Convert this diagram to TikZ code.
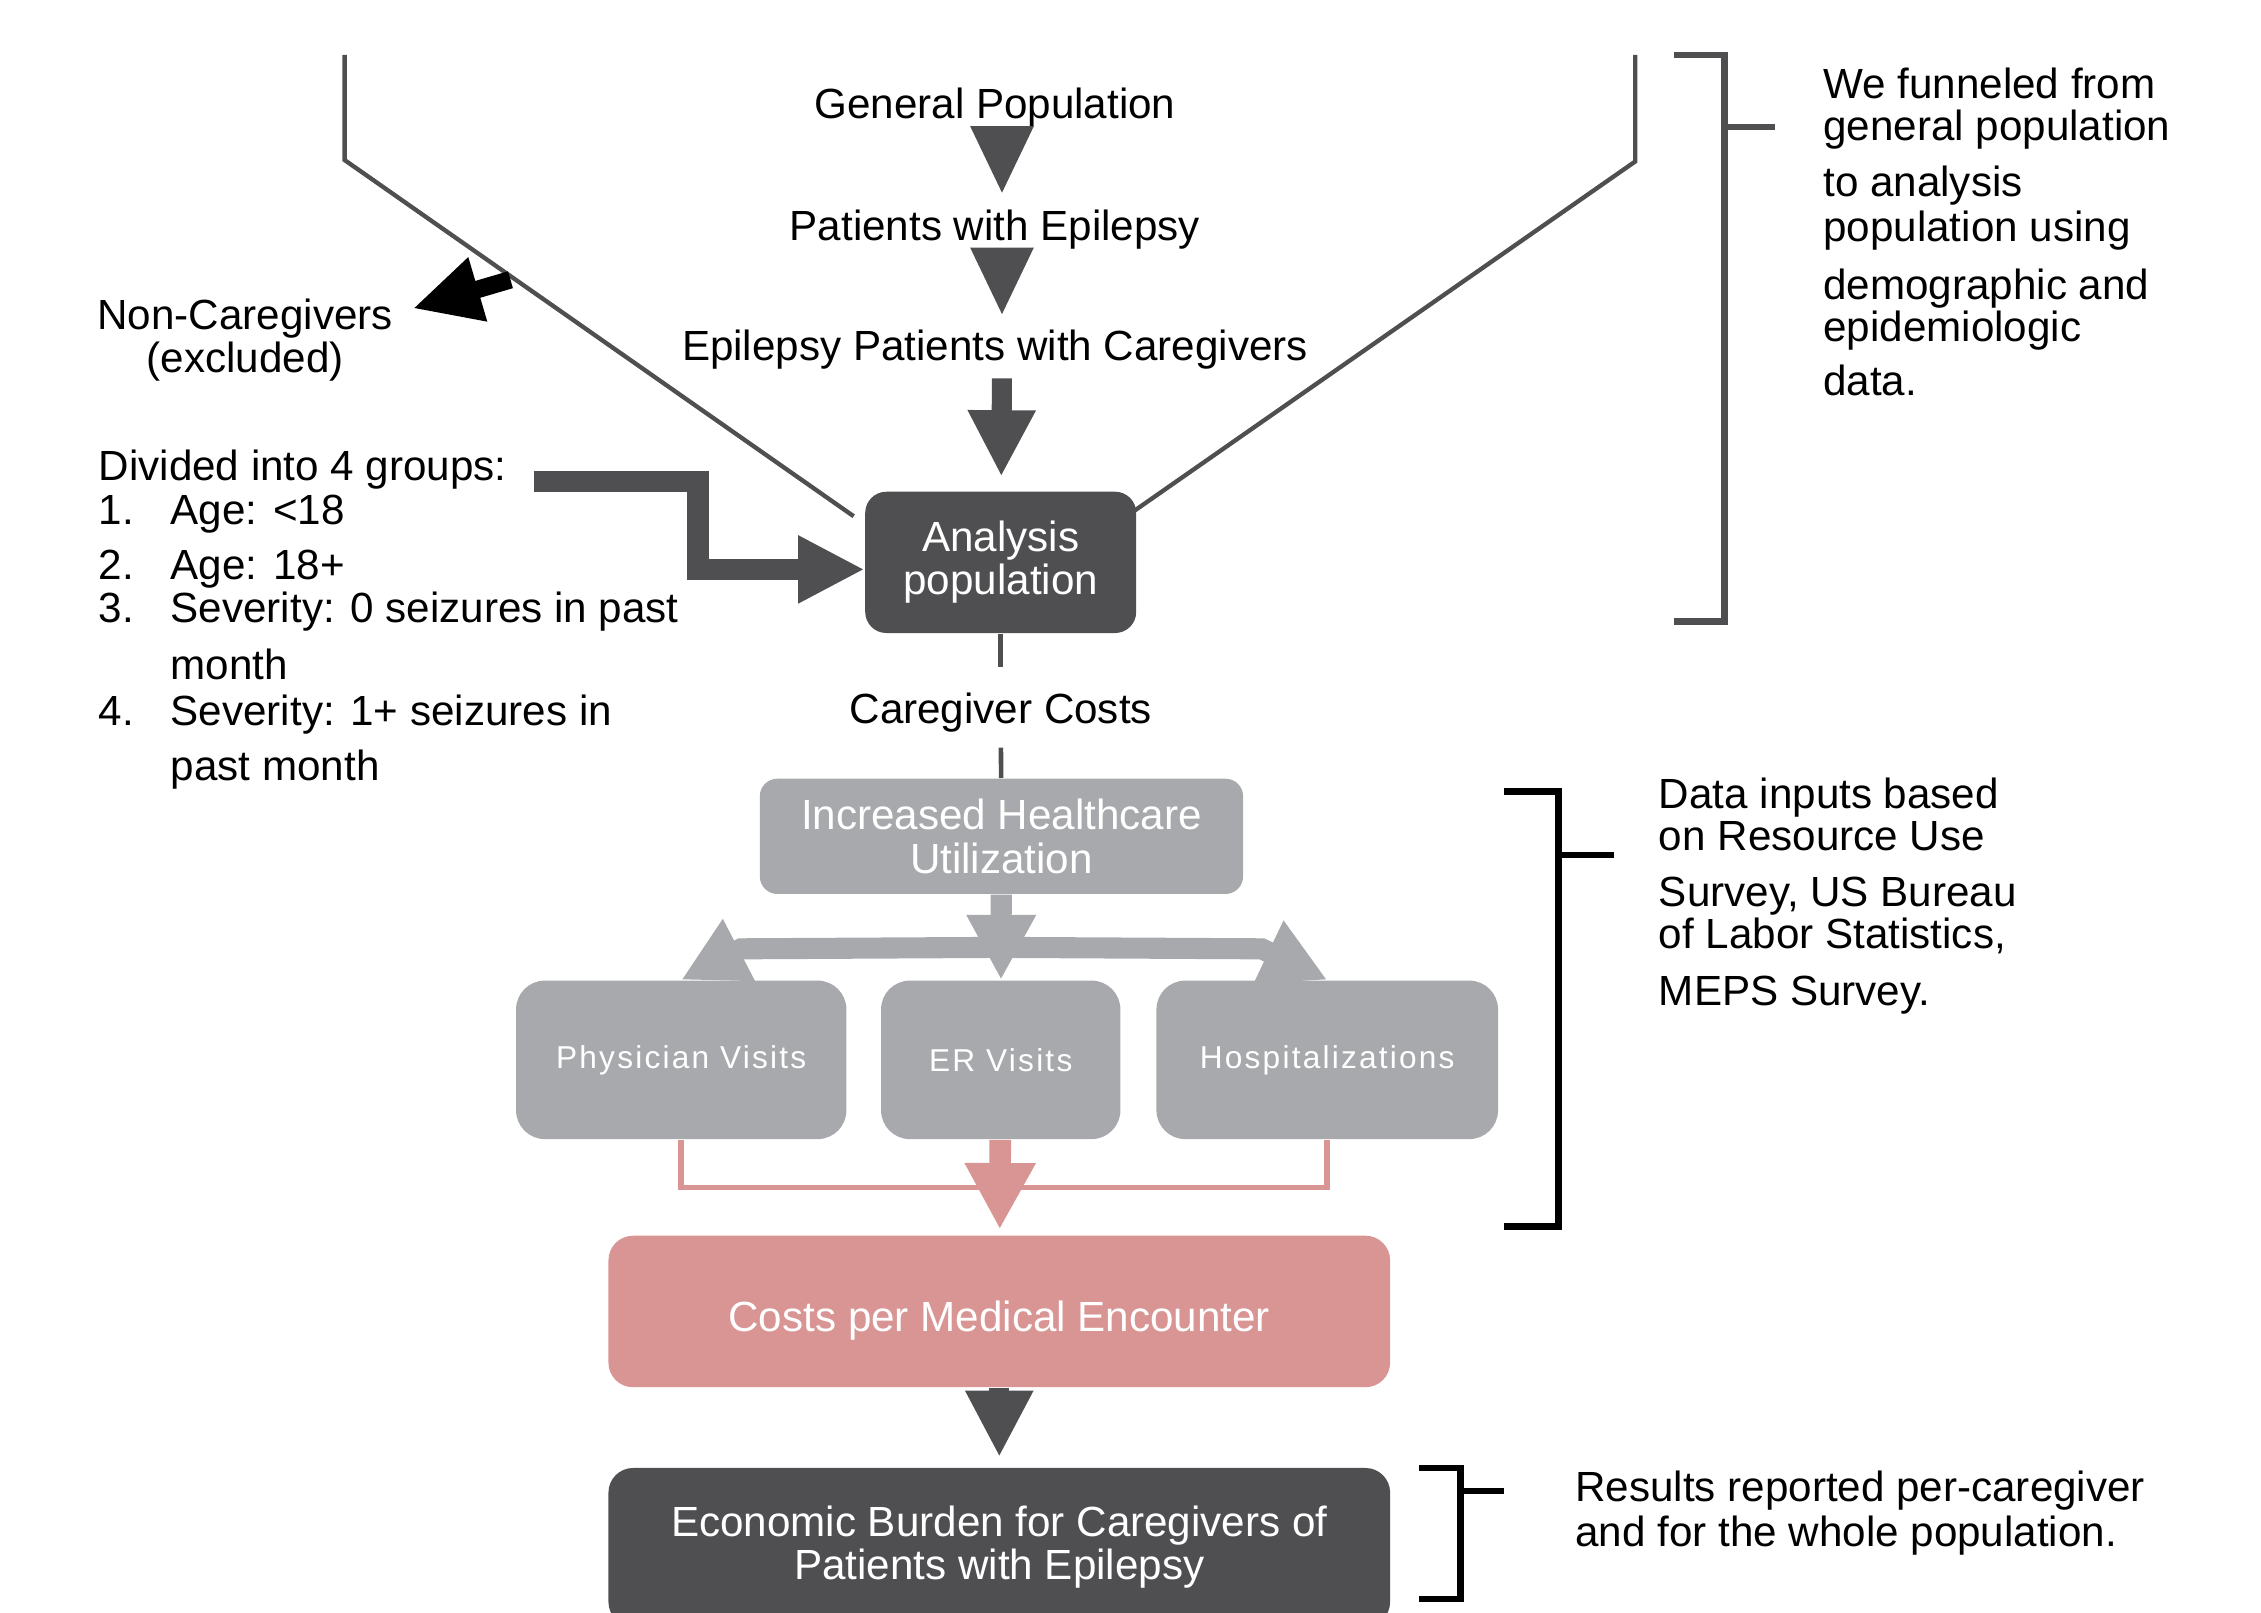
\documentclass[tikz,border=0pt]{standalone}
\usepackage{fontspec}
\setmainfont{Liberation Sans}
\usetikzlibrary{arrows.meta,positioning}
\definecolor{slate}{HTML}{4F4F51}
\definecolor{ash}{HTML}{A8A9AC}
\definecolor{rose}{HTML}{D99594}
\newcommand{\nr}[1]{\makebox[20.5pt][l]{#1}}

\begin{document}
\begin{tikzpicture}[x=0.01442cm,y=-0.01442cm,
    every node/.style={font=\fontsize{12}{12.3}\selectfont},
    txt/.style={inner sep=0pt},
    panel/.style={rectangle,inner sep=0pt,text=white,align=center},
    dark box/.style={panel,fill=slate,rounded corners=6pt},
    grey box/.style={panel,fill=ash,rounded corners=5pt},
    rose box/.style={panel,fill=rose,rounded corners=7pt},
    visit/.style={panel,fill=ash,rounded corners=8.2pt,minimum height=45.1pt,font=\fontsize{9}{11}\selectfont\addfontfeatures{LetterSpace=7}},
    funnel/.style={draw=slate,line width=1.23pt},
    stem/.style={draw=slate,line width=1.3pt},
    tip only/.style={draw=slate,line width=0.4pt,-{Triangle[length=18.9pt,width=18pt]}},
    fat/.style={draw=slate,line width=5.7pt,-{Triangle[length=18.9pt,width=18pt]}},
    split arrow/.style={draw=ash,line width=6pt,-{Triangle[length=18.5pt,width=18.5pt]}},
    rose arrow/.style={draw=rose,line width=6.15pt,-{Triangle[length=18.9pt,width=18.9pt]}},
    rose line/.style={draw=rose,line width=1.6pt},
    excl arrow/.style={draw=black,line width=5pt,-{Triangle[length=19.3pt,width=17.6pt]}},
    bracket/.style={draw=black,line width=1.9pt}]

    \useasboundingbox (0,0) rectangle (1568,1118);
    \clip (0,0) rectangle (1568,1118);

    % funnel
    \draw[funnel] (239,38) -- (239,111) -- (592,358);
    \draw[funnel] (1134,38) -- (1134,112) -- (787,354);

    \node[txt, anchor=base] (gen) at (690,82) {General Population};
    \node[txt, anchor=base] (pat) at (690,167) {Patients with Epilepsy};
    \node[txt, anchor=base] (epc) at (690,250) {Epilepsy Patients with Caregivers};
    \node[dark box, minimum width=77.1pt, minimum height=40.2pt] (ana) at (694,390) {Analysis\\population};

    \draw[tip only, shorten >=4.8pt] ([xshift=2pt]gen.south) -- ([xshift=2pt]pat.north);
    \draw[tip only, shorten >=4.3pt] ([xshift=2pt]pat.south) -- ([xshift=2pt]epc.north);
    \draw[fat, shorten <=2.4pt, shorten >=4.1pt] ([xshift=2pt]epc.south) -- (ana);

    % excluded
    \node[txt, align=center] (nonc) at (170,236) {Non-Caregivers\\(excluded)};
    \coordinate (cut) at (354,194);
    \draw[excl arrow, shorten >=5.7pt] (cut) -- (nonc.10);

    % groups
    \node[txt, anchor=base west] (grp) at (68,333) {Divided into 4 groups:};
    \node[txt, anchor=base west] (grp1) at (68,364) {\nr{1.}Age: <18};
    \node[txt, anchor=base west] (grp2) at (68,402) {\nr{2.}Age: 18+};
    \node[txt, anchor=base west] (grp3) at (68,432) {\nr{3.}Severity: 0 seizures in past};
    \node[txt, anchor=base west] (grp3b) at (118,471) {month};
    \node[txt, anchor=base west] (grp4) at (68,503) {\nr{4.}Severity: 1+ seizures in};
    \node[txt, anchor=base west] (grp4b) at (118,541) {past month};

    \coordinate (grpout) at (370,334);
    \coordinate (grpbend) at (484,334);
    \draw[fat, line width=6.15pt] (grpout) -- (grpbend) |- ([yshift=-2pt]ana.west);

    % costs
    \node[txt, anchor=base] (cgc) at (694,502) {Caregiver Costs};
    \node[grey box, minimum width=137.5pt, minimum height=32.8pt] (inc) at (694.5,580) {Increased Healthcare\\Utilization};
    \draw[stem, shorten >=7.2pt] (ana) -- (cgc);
    \draw[stem, shorten <=4.1pt] (cgc) -- (inc);

    \node[visit, minimum width=68.1pt] (er) at (694,735) {ER Visits};
    \node[visit, minimum width=94pt] (phys) [left of=er, node distance=90.9pt] {Physician Visits};
    \node[visit, minimum width=97.2pt] (hosp) [right of=er, node distance=92.9pt] {Hospitalizations};

    \coordinate (split) at (694,657);
    \coordinate (lknee) at (514,658);
    \coordinate (rknee) at (875,658);
    \draw[split arrow] (inc) -- (er);
    \draw[split arrow] (split) -- (lknee) -- (phys.north);
    \draw[split arrow] (split) -- (rknee) -- (hosp.north);

    \node[rose box, minimum width=222.4pt, minimum height=43.1pt, text height=14pt, text depth=2.5pt] (cost) at (693,909.5) {Costs per Medical Encounter};
    \node[dark box, minimum width=222.4pt, minimum height=45.1pt, rounded corners=7pt] (econ) at (693,1073) {Economic Burden for Caregivers of\\Patients with Epilepsy};

    \draw[rose line] (phys.south) -- ++(0,33) -| (hosp.south);
    \draw[rose arrow, shorten >=1.6pt] (er) -- (cost);
    \draw[fat, shorten >=2.9pt] (cost) -- (econ);

    % brackets
    \draw[bracket, draw=slate, line width=1.8pt] (1161,38) -| (1196,431) -- (1161,431);
    \draw[bracket, draw=slate, line width=1.8pt] (1196,88) -- (1231,88);
    \draw[bracket] (1043,549) -| (1081,850.7) -- (1043,850.7);
    \draw[bracket] (1081,593) -- (1119.6,593);
    \draw[bracket] (984,1018) -| (1013,1109) -- (984,1109);
    \draw[bracket] (1013,1034) -- (1043,1034);

    \node[txt, anchor=base west] (wf1) at (1264,68.6) {We funneled from};
    \node[txt, anchor=base west] (wf2) at (1264,97.6) {general population};
    \node[txt, anchor=base west] (wf3) at (1264,136) {to analysis};
    \node[txt, anchor=base west] (wf4) at (1264,167.5) {population using};
    \node[txt, anchor=base west] (wf5) at (1264,207.5) {demographic and};
    \node[txt, anchor=base west] (wf6) at (1264,237) {epidemiologic};
    \node[txt, anchor=base west] (wf7) at (1264,274) {data.};

    \node[txt, anchor=base west] (di1) at (1150,561) {Data inputs based};
    \node[txt, anchor=base west] (di2) at (1150,589.5) {on Resource Use};
    \node[txt, anchor=base west] (di3) at (1150,628.8) {Survey, US Bureau};
    \node[txt, anchor=base west] (di4) at (1150,657.6) {of Labor Statistics,};
    \node[txt, anchor=base west] (di5) at (1150,697) {MEPS Survey.};

    \node[txt, anchor=base west] (rr1) at (1092,1041) {Results reported per-caregiver};
    \node[txt, anchor=base west] (rr2) at (1092,1072.6) {and for the whole population.};
\end{tikzpicture}
\end{document}
